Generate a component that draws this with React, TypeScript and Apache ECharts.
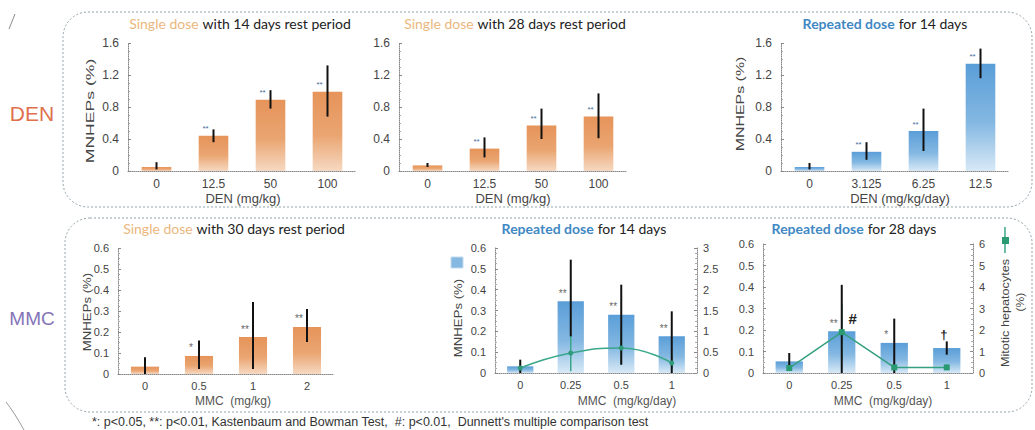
import React, { useEffect, useRef } from 'react';
import * as echarts from 'echarts';

// ---------- categories ----------
const denSingleDoses = ['0', '12.5', '50', '100'];
const denRepeatDoses = ['0', '3.125', '6.25', '12.5'];
const mmcSingleDoses = ['0', '0.5', '1', '2'];
const mmcRepeatDoses = ['0', '0.25', '0.5', '1'];

// ---------- DEN single dose, 14 days rest ----------
const den14Mean = [0.05, 0.44, 0.89, 0.99];
const den14Low = [0.02, 0.36, 0.78, 0.68];
const den14High = [0.11, 0.52, 1.01, 1.32];
const den14Stars = ['', '**', '**', '**'];

// ---------- DEN single dose, 28 days rest ----------
const den28Mean = [0.07, 0.28, 0.57, 0.68];
const den28Low = [0.05, 0.17, 0.4, 0.41];
const den28High = [0.1, 0.42, 0.78, 0.97];
const den28Stars = ['', '**', '**', '**'];

// ---------- DEN repeated dose 14 days ----------
const denRep14Mean = [0.05, 0.24, 0.5, 1.34];
const denRep14Low = [0.02, 0.14, 0.25, 1.16];
const denRep14High = [0.1, 0.36, 0.78, 1.53];
const denRep14Stars = ['', '**', '**', '**'];

// ---------- MMC single dose, 30 days rest ----------
const mmc30Mean = [0.035, 0.086, 0.176, 0.224];
const mmc30Low = [0.0, 0.024, 0.024, 0.152];
const mmc30High = [0.08, 0.16, 0.343, 0.31];
const mmc30Stars = ['', '*', '**', '**'];

// ---------- MMC repeated dose 14 days ----------
const mmcRep14Mean = [0.032, 0.344, 0.28, 0.176];
const mmcRep14Low = [0.0, 0.176, 0.04, 0.0];
const mmcRep14High = [0.064, 0.544, 0.424, 0.296];
const mmcRep14Stars = ['', '**', '**', '**'];
const mitotic14 = [0.12, 0.48, 0.6, 0.24];
const mitotic14Low = [0.05, 0.04, 0.2, 0.1];
const mitotic14High = [0.2, 0.9, 1.0, 0.4];

// ---------- MMC repeated dose 28 days ----------
const mmcRep28Mean = [0.054, 0.194, 0.14, 0.116];
const mmcRep28Low = [0.01, 0.0, 0.0, 0.085];
const mmcRep28High = [0.093, 0.41, 0.253, 0.147];
const mmcRep28Stars = ['', '**', '*', ''];
const mitotic28 = [0.23, 1.9, 0.26, 0.26];
const mitotic28Low = [0.1, 0.6, 0.15, 0.15];
const mitotic28High = [0.4, 3.2, 0.4, 0.4];
const mitotic28Marks = ['', '#', '', '†'];

// ---------- ticks ----------
const denAxisMax = 1.6;
const denAxisStep = 0.4;
const mmcAxisMax = 0.6;
const mmcAxisStep = 0.1;
const mitotic14Max = 3;
const mitotic14Step = 0.5;
const mitotic28Max = 6;
const mitotic28Step = 1;

const AXIS_FONT = '"Liberation Sans", Arial, sans-serif';
const TITLE_FONT = 'Lato, "Open Sans", sans-serif';

export default function App() {
  const ref = useRef<HTMLDivElement>(null);

  useEffect(() => {
    if (!ref.current) return;
    const chart = echarts.init(ref.current, undefined, { renderer: 'svg' });

    const orange = () =>
      new echarts.graphic.LinearGradient(0, 0, 0, 1, [
        { offset: 0, color: '#e6945a' },
        { offset: 0.55, color: '#eaa571' },
        { offset: 1, color: '#f6d9c2' },
      ]);
    const blue = () =>
      new echarts.graphic.LinearGradient(0, 0, 0, 1, [
        { offset: 0, color: '#5a9ed8' },
        { offset: 0.55, color: '#84b8e2' },
        { offset: 1, color: '#d8e9f6' },
      ]);

    const grids = [
      { left: 128, top: 43, width: 228, height: 128 },
      { left: 399, top: 43, width: 228, height: 128 },
      { left: 781, top: 43, width: 228, height: 128 },
      { left: 118, top: 248, width: 216, height: 126 },
      { left: 495, top: 248, width: 202, height: 125 },
      { left: 763, top: 244, width: 210, height: 129 },
    ];

    const axisLine = { show: true, lineStyle: { color: '#8a8a8a', type: 'dotted' as const, width: 1 } };
    const xAxis = (gi: number, data: string[], size: number, margin: number) => ({
      type: 'category',
      gridIndex: gi,
      data,
      axisLine,
      axisTick: { show: false },
      axisLabel: { color: '#444', fontSize: size, fontFamily: AXIS_FONT, margin },
      splitLine: { show: false },
    });
    const yAxis = (gi: number, max: number, step: number, size: number, position = 'left') => ({
      type: 'value',
      gridIndex: gi,
      position,
      min: 0,
      max,
      interval: step,
      axisLine,
      axisTick: { show: true, inside: true, length: 3, lineStyle: { color: '#8a8a8a' } },
      minorTick: { show: true, splitNumber: 4, length: 2, lineStyle: { color: '#aaaaaa' } },
      splitLine: { show: false },
      axisLabel: {
        color: '#444',
        fontSize: size,
        fontFamily: AXIS_FONT,
        margin: position === 'left' ? 9 : 6,
      },
    });

    const barSeries = (
      idx: number,
      values: number[],
      stars: string[],
      fill: () => any,
      starColor: string,
      starSize: number
    ) => ({
      type: 'bar',
      xAxisIndex: idx,
      yAxisIndex: idx,
      data: values,
      barWidth: '52%',
      z: 2,
      itemStyle: { color: fill() },
      label: {
        show: true,
        position: 'top',
        distance: 3,
        offset: [-8, 0],
        formatter: (p: any) => stars[p.dataIndex],
        color: starColor,
        fontSize: starSize,
        fontFamily: AXIS_FONT,
      },
    });

    const errSeries = (
      xi: number,
      yi: number,
      low: number[],
      high: number[],
      color: string,
      width: number,
      z: number
    ) => ({
      type: 'custom',
      xAxisIndex: xi,
      yAxisIndex: yi,
      z,
      silent: true,
      data: low.map((l, i) => [i, l, high[i]]),
      encode: { x: 0, y: [1, 2] },
      renderItem: (_p: any, api: any) => {
        const a = api.coord([api.value(0), api.value(1)]);
        const b = api.coord([api.value(0), api.value(2)]);
        return {
          type: 'line',
          shape: { x1: a[0], y1: a[1], x2: b[0], y2: b[1] },
          style: { stroke: color, lineWidth: width },
        };
      },
    });

    const titleRich = {
      s: { color: '#ebb77e', fontSize: 14, fontFamily: TITLE_FONT, fontWeight: 'normal' as const },
      r: { color: '#3f88c4', fontSize: 14, fontFamily: TITLE_FONT, fontWeight: 'bold' as const },
      t: { color: '#222', fontSize: 14, fontFamily: TITLE_FONT, fontWeight: 'normal' as const },
    };
    const title = (text: string, cx: number, top: number) => ({
      text,
      left: cx,
      top,
      textAlign: 'center',
      padding: 0,
      textStyle: { rich: titleRich, fontSize: 14, fontWeight: 'normal' },
    });

    const rotText = (
      text: string,
      x: number,
      y: number,
      size: number,
      stretch: number,
      color = '#444'
    ) => ({
      type: 'text',
      x,
      y,
      rotation: Math.PI / 2,
      scaleX: stretch,
      silent: true,
      style: {
        text,
        fill: color,
        font: `${size}px ${AXIS_FONT}`,
        textAlign: 'center',
        textVerticalAlign: 'middle',
        align: 'center',
        verticalAlign: 'middle',
      },
    });
    const flatText = (
      text: string,
      x: number,
      y: number,
      font: string,
      color: string,
      align = 'center'
    ) => ({
      type: 'text',
      x,
      y,
      silent: true,
      style: {
        text,
        fill: color,
        font,
        textAlign: align,
        textVerticalAlign: 'middle',
        align,
        verticalAlign: 'middle',
      },
    });

    const option: any = {
      animation: false,
      backgroundColor: '#ffffff',
      title: [
        title('{s|Single dose} {t|with 14 days rest period}', 240, 16),
        title('{s|Single dose} {t|with 28 days rest period}', 515, 16),
        title('{r|Repeated dose} {t|for 14 days}', 885, 16),
        title('{s|Single dose} {t|with 30 days rest period}', 234, 221),
        title('{r|Repeated dose} {t|for 14 days}', 584, 221),
        title('{r|Repeated dose} {t|for 28 days}', 854, 221),
      ],
      grid: grids,
      xAxis: [
        xAxis(0, denSingleDoses, 12, 7),
        xAxis(1, denSingleDoses, 12, 7),
        xAxis(2, denRepeatDoses, 12, 7),
        xAxis(3, mmcSingleDoses, 11, 6),
        xAxis(4, mmcRepeatDoses, 11, 6),
        xAxis(5, mmcRepeatDoses, 11, 6),
      ],
      yAxis: [
        yAxis(0, denAxisMax, denAxisStep, 12),
        yAxis(1, denAxisMax, denAxisStep, 12),
        yAxis(2, denAxisMax, denAxisStep, 12),
        yAxis(3, mmcAxisMax, mmcAxisStep, 11),
        yAxis(4, mmcAxisMax, mmcAxisStep, 11),
        yAxis(5, mmcAxisMax, mmcAxisStep, 11),
        yAxis(4, mitotic14Max, mitotic14Step, 11, 'right'),
        yAxis(5, mitotic28Max, mitotic28Step, 11, 'right'),
      ],
      series: [
        barSeries(0, den14Mean, den14Stars, orange, '#4a6b9a', 8),
        errSeries(0, 0, den14Low, den14High, '#111', 2, 4),
        barSeries(1, den28Mean, den28Stars, orange, '#4a6b9a', 8),
        errSeries(1, 1, den28Low, den28High, '#111', 2, 4),
        barSeries(2, denRep14Mean, denRep14Stars, blue, '#4a6b9a', 8),
        errSeries(2, 2, denRep14Low, denRep14High, '#111', 2, 4),
        barSeries(3, mmc30Mean, mmc30Stars, orange, '#666', 10),
        errSeries(3, 3, mmc30Low, mmc30High, '#111', 2, 4),
        barSeries(4, mmcRep14Mean, mmcRep14Stars, blue, '#666', 10),
        errSeries(4, 6, mitotic14Low, mitotic14High, '#3aa68a', 1.5, 3),
        errSeries(4, 4, mmcRep14Low, mmcRep14High, '#111', 2, 4),
        {
          type: 'line',
          xAxisIndex: 4,
          yAxisIndex: 6,
          data: mitotic14,
          smooth: true,
          z: 5,
          symbol: 'circle',
          symbolSize: 5,
          lineStyle: { color: '#3aa68a', width: 1.5 },
          itemStyle: { color: '#2f9a7c' },
        },
        barSeries(5, mmcRep28Mean, mmcRep28Stars, blue, '#666', 10),
        errSeries(5, 7, mitotic28Low, mitotic28High, '#3aa68a', 1.5, 3),
        errSeries(5, 5, mmcRep28Low, mmcRep28High, '#111', 2, 4),
        {
          type: 'line',
          xAxisIndex: 5,
          yAxisIndex: 7,
          z: 5,
          symbol: 'rect',
          symbolSize: 6,
          lineStyle: { color: '#35a080', width: 1.5 },
          itemStyle: { color: '#2a9a72' },
          data: mitotic28.map((v, i) => ({
            value: v,
            label: {
              show: mitotic28Marks[i] !== '',
              formatter: mitotic28Marks[i],
              position: 'top',
              offset: i === 1 ? [11, 2] : [-3, -18],
              color: '#222',
              fontSize: i === 1 ? 15 : 13,
              fontWeight: 'bold',
              fontFamily: AXIS_FONT,
            },
          })),
        },
      ],
      graphic: [
        // panel frames
        {
          type: 'rect',
          silent: true,
          shape: { x: 63, y: 12, width: 969, height: 195, r: 25 },
          style: { fill: 'none', stroke: '#93a3aa', lineWidth: 1, lineDash: [2, 2] },
        },
        {
          type: 'rect',
          silent: true,
          shape: { x: 65, y: 218, width: 967, height: 194, r: 25 },
          style: { fill: 'none', stroke: '#93a3aa', lineWidth: 1, lineDash: [2, 2] },
        },
        // stray scan marks
        {
          type: 'line',
          silent: true,
          shape: { x1: 9, y1: 29, x2: 15, y2: 14 },
          style: { stroke: '#8a8a8a', lineWidth: 1 },
        },
        {
          type: 'bezierCurve',
          silent: true,
          shape: { x1: 6, y1: 402, cpx1: 14, cpy1: 412, x2: 24, y2: 430 },
          style: { stroke: '#9a9a9a', lineWidth: 1, fill: 'none' },
        },
        // row labels
        flatText('DEN', 32, 113, `21px ${AXIS_FONT}`, '#e0704e'),
        flatText('MMC', 32, 318, `19px ${AXIS_FONT}`, '#8474b6'),
        // y axis names
        rotText('MNHEPs (%)', 90, 111, 11, 1.6),
        rotText('MNHEPs (%)', 740, 104, 11, 1.45),
        rotText('MNHEPs (%)', 87, 312, 11, 1.2),
        rotText('MNHEPs (%)', 458, 318, 11, 1.2),
        rotText('Mitotic hepatocytes', 1005, 313, 11, 1.15),
        rotText('(%)', 1020, 302, 11, 1.1),
        // legend markers
        {
          type: 'rect',
          silent: true,
          shape: { x: 451, y: 257, width: 12, height: 11 },
          style: { fill: '#86b9e2', stroke: '#c3dbee', lineWidth: 1 },
        },
        {
          type: 'line',
          silent: true,
          shape: { x1: 1005, y1: 227, x2: 1005, y2: 253 },
          style: { stroke: '#3aa68a', lineWidth: 1.5 },
        },
        {
          type: 'rect',
          silent: true,
          shape: { x: 1002, y: 237, width: 7, height: 7 },
          style: { fill: '#2a9a72' },
        },
        // x axis names
        flatText('DEN (mg/kg)', 243, 198, `13px ${AXIS_FONT}`, '#444'),
        flatText('DEN (mg/kg)', 513, 198, `13px ${AXIS_FONT}`, '#444'),
        flatText('DEN (mg/kg/day)', 900, 198, `13px ${AXIS_FONT}`, '#444'),
        flatText('MMC  (mg/kg)', 233, 401, `12px ${AXIS_FONT}`, '#555'),
        flatText('MMC  (mg/kg/day)', 627, 401, `12px ${AXIS_FONT}`, '#555'),
        flatText('MMC  (mg/kg/day)', 883, 401, `12px ${AXIS_FONT}`, '#555'),
        // footnote
        flatText(
          "*: p<0.05, **: p<0.01, Kastenbaum and Bowman Test,  #: p<0.01,  Dunnett's multiple comparison test",
          92,
          422,
          `12.5px ${AXIS_FONT}`,
          '#333',
          'left'
        ),
      ],
    };

    chart.setOption(option);
    return () => {
      chart.dispose();
    };
  }, []);

  return (
    <div
      ref={ref}
      style={{ position: 'absolute', left: 0, top: 0, width: 1035, height: 430, background: '#fff' }}
    />
  );
}
